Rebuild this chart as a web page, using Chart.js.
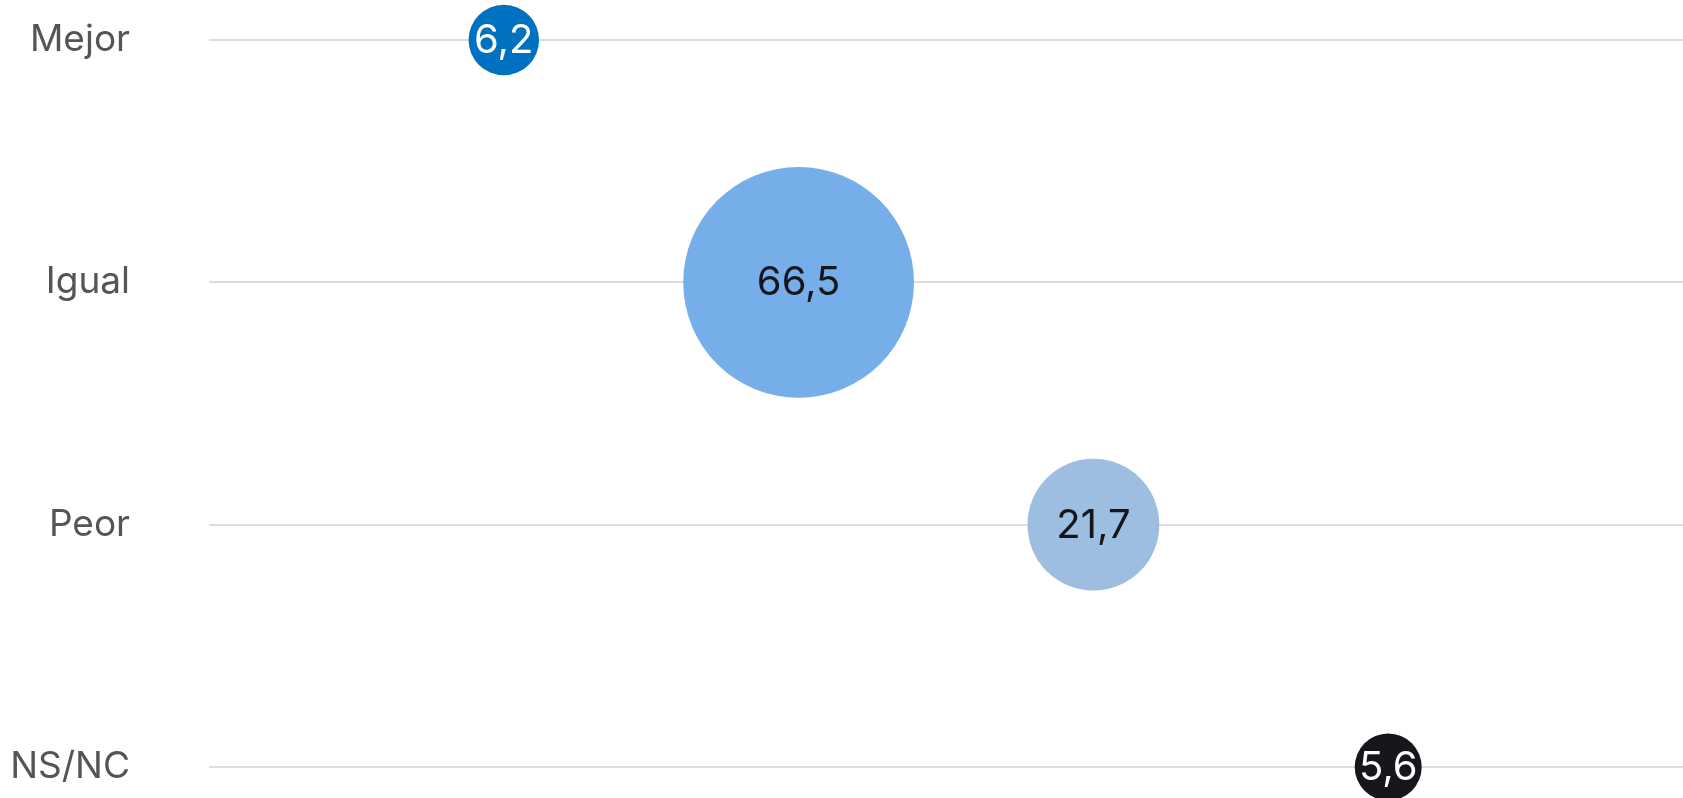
<!DOCTYPE html>
<html>
<head>
<meta charset="utf-8">
<script src="https://cdn.jsdelivr.net/npm/chart.js@4"></script>
<style>
  html, body { margin: 0; padding: 0; background: #fff; }
  #wrap { width: 1683px; height: 798px; }
</style>
</head>
<body>
<div id="wrap"><canvas id="myChart"></canvas></div>
<script>
const categories = ["Mejor", "Igual", "Peor", "NS/NC"];
const values = [6.2, 66.5, 21.7, 5.6];
const colors = ["#0070c0", "#76aee9", "#9dbde1", "#16161d"];
const labelColors = ["#ffffff", "#15151c", "#15151c", "#ffffff"];

const ctx = document.getElementById("myChart").getContext("2d");

// bubble area proportional to value
const radius = (v) => 14.15 * Math.sqrt(v);

const points = values.map((v, i) => ({ x: i + 1, y: i, r: radius(v) }));

const valueLabels = {
    id: "valueLabels",
    afterDatasetsDraw(chart) {
        const c = chart.ctx;
        const meta = chart.getDatasetMeta(0);
        c.save();
        c.font = "40px Inter";
        c.textAlign = "center";
        c.textBaseline = "middle";
        meta.data.forEach((el, i) => {
            c.fillStyle = labelColors[i];
            c.fillText(values[i].toFixed(1).replace(".", ","), el.x, el.y + 1);
        });
        c.restore();
    }
};

const myChart = new Chart(ctx, {
    type: "bubble",
    data: {
        datasets: [{
            data: points,
            backgroundColor: colors,
            borderWidth: 0,
            hoverBorderWidth: 0,
            clip: false
        }]
    },
    options: {
        responsive: true,
        maintainAspectRatio: false,
        animation: false,
        events: [],
        layout: {
            autoPadding: false,
            padding: { top: 40, bottom: 31, left: 0, right: 0 }
        },
        plugins: {
            legend: { display: false },
            tooltip: { enabled: false }
        },
        scales: {
            x: {
                type: "linear",
                min: 0,
                max: 5,
                display: false
            },
            y: {
                type: "linear",
                reverse: true,
                min: 0,
                max: 3,
                afterFit: (scale) => {
                    scale.width = 209;
                    scale.paddingTop = 0;
                    scale.paddingBottom = 0;
                },
                ticks: {
                    stepSize: 1,
                    padding: 79,
                    color: "#555555",
                    font: { family: "Inter", size: 37 },
                    callback: (v) => categories[v]
                },
                grid: {
                    color: "#dcdce4",
                    lineWidth: 2,
                    drawTicks: false
                },
                border: { display: false }
            }
        }
    },
    plugins: [valueLabels]
});
</script>
</body>
</html>
